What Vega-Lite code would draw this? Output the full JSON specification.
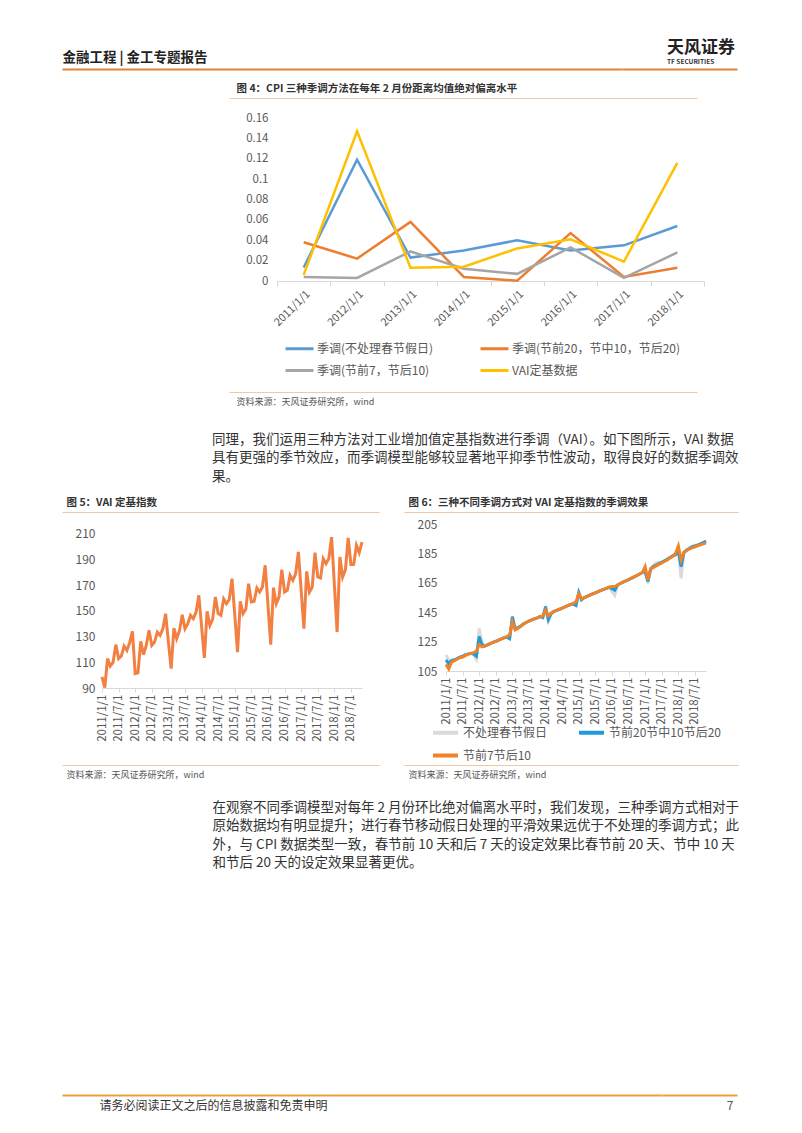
{
"$schema": "https://vega.github.io/schema/vega-lite/v6.json",
"background": "white",
"padding": {"left": 62, "top": 38, "right": 0, "bottom": 0},
"autosize": {"type": "pad"},
"config": {"font": "Noto Sans CJK SC", "view": {"stroke": null}},
"datasets": {
"f5": [
{"d":"2011/1/1","v":98.6},{"d":"2011/2/1","v":90.3},{"d":"2011/3/1","v":112.9},{"d":"2011/4/1","v":107},{"d":"2011/5/1","v":110},{"d":"2011/6/1","v":123.8},{"d":"2011/7/1","v":113},{"d":"2011/8/1","v":115},{"d":"2011/9/1","v":122.7},{"d":"2011/10/1","v":119.3},{"d":"2011/11/1","v":125.3},{"d":"2011/12/1","v":134.1},
{"d":"2012/1/1","v":101.2},{"d":"2012/2/1","v":101.8},{"d":"2012/3/1","v":126.4},{"d":"2012/4/1","v":116},{"d":"2012/5/1","v":123.2},{"d":"2012/6/1","v":134.9},{"d":"2012/7/1","v":123.2},{"d":"2012/8/1","v":125.8},{"d":"2012/9/1","v":133.6},{"d":"2012/10/1","v":131},{"d":"2012/11/1","v":136.2},{"d":"2012/12/1","v":147.9},
{"d":"2013/1/1","v":126},{"d":"2013/2/1","v":105.1},{"d":"2013/3/1","v":136.7},{"d":"2013/4/1","v":128.4},{"d":"2013/5/1","v":134.5},{"d":"2013/6/1","v":147},{"d":"2013/7/1","v":136.2},{"d":"2013/8/1","v":140},{"d":"2013/9/1","v":146.6},{"d":"2013/10/1","v":144},{"d":"2013/11/1","v":149},{"d":"2013/12/1","v":162.2},
{"d":"2014/1/1","v":138},{"d":"2014/2/1","v":113.4},{"d":"2014/3/1","v":149.7},{"d":"2014/4/1","v":138.8},{"d":"2014/5/1","v":143.5},{"d":"2014/6/1","v":160.9},{"d":"2014/7/1","v":147.9},{"d":"2014/8/1","v":146.6},{"d":"2014/9/1","v":159.5},{"d":"2014/10/1","v":155.7},{"d":"2014/11/1","v":159},{"d":"2014/12/1","v":175.2},
{"d":"2015/1/1","v":147},{"d":"2015/2/1","v":118},{"d":"2015/3/1","v":157.5},{"d":"2015/4/1","v":147.9},{"d":"2015/5/1","v":151.3},{"d":"2015/6/1","v":171.3},{"d":"2015/7/1","v":157},{"d":"2015/8/1","v":157.5},{"d":"2015/9/1","v":167.9},{"d":"2015/10/1","v":164.8},{"d":"2015/11/1","v":168.7},{"d":"2015/12/1","v":185.6},
{"d":"2016/1/1","v":155},{"d":"2016/2/1","v":123.8},{"d":"2016/3/1","v":168.2},{"d":"2016/4/1","v":155.7},{"d":"2016/5/1","v":160.9},{"d":"2016/6/1","v":182.2},{"d":"2016/7/1","v":164.8},{"d":"2016/8/1","v":166.1},{"d":"2016/9/1","v":177.8},{"d":"2016/10/1","v":173.9},{"d":"2016/11/1","v":179},{"d":"2016/12/1","v":196},
{"d":"2017/1/1","v":166},{"d":"2017/2/1","v":136.2},{"d":"2017/3/1","v":180.9},{"d":"2017/4/1","v":164.8},{"d":"2017/5/1","v":168.7},{"d":"2017/6/1","v":195.5},{"d":"2017/7/1","v":176.5},{"d":"2017/8/1","v":175.7},{"d":"2017/9/1","v":190.8},{"d":"2017/10/1","v":186.9},{"d":"2017/11/1","v":190.8},{"d":"2017/12/1","v":207.6},
{"d":"2018/1/1","v":171},{"d":"2018/2/1","v":133.6},{"d":"2018/3/1","v":192.1},{"d":"2018/4/1","v":176.5},{"d":"2018/5/1","v":182},{"d":"2018/6/1","v":206.9},{"d":"2018/7/1","v":186.1},{"d":"2018/8/1","v":186.3},{"d":"2018/9/1","v":201.1},{"d":"2018/10/1","v":195.5},{"d":"2018/11/1","v":203.7}
],
"f6": [
{"d":"2011/1/1","s":"不处理春节假日","v":116},{"d":"2011/2/1","s":"不处理春节假日","v":112},{"d":"2011/3/1","s":"不处理春节假日","v":112.5},{"d":"2011/4/1","s":"不处理春节假日","v":112.5},{"d":"2011/5/1","s":"不处理春节假日","v":113.5},{"d":"2011/6/1","s":"不处理春节假日","v":114.5},{"d":"2011/7/1","s":"不处理春节假日","v":115},{"d":"2011/8/1","s":"不处理春节假日","v":116},{"d":"2011/9/1","s":"不处理春节假日","v":116.5},{"d":"2011/10/1","s":"不处理春节假日","v":117},{"d":"2011/11/1","s":"不处理春节假日","v":116},{"d":"2011/12/1","s":"不处理春节假日","v":113},
{"d":"2012/1/1","s":"不处理春节假日","v":134},{"d":"2012/2/1","s":"不处理春节假日","v":124},{"d":"2012/3/1","s":"不处理春节假日","v":122},{"d":"2012/4/1","s":"不处理春节假日","v":122.8},{"d":"2012/5/1","s":"不处理春节假日","v":123.6},{"d":"2012/6/1","s":"不处理春节假日","v":124.4},{"d":"2012/7/1","s":"不处理春节假日","v":125.2},{"d":"2012/8/1","s":"不处理春节假日","v":126},{"d":"2012/9/1","s":"不处理春节假日","v":126.8},{"d":"2012/10/1","s":"不处理春节假日","v":127.6},{"d":"2012/11/1","s":"不处理春节假日","v":128},{"d":"2012/12/1","s":"不处理春节假日","v":127},
{"d":"2013/1/1","s":"不处理春节假日","v":140},{"d":"2013/2/1","s":"不处理春节假日","v":134},{"d":"2013/3/1","s":"不处理春节假日","v":134.5},{"d":"2013/4/1","s":"不处理春节假日","v":135.5},{"d":"2013/5/1","s":"不处理春节假日","v":137},{"d":"2013/6/1","s":"不处理春节假日","v":138},{"d":"2013/7/1","s":"不处理春节假日","v":139},{"d":"2013/8/1","s":"不处理春节假日","v":139.8},{"d":"2013/9/1","s":"不处理春节假日","v":140.5},{"d":"2013/10/1","s":"不处理春节假日","v":141.2},{"d":"2013/11/1","s":"不处理春节假日","v":142},{"d":"2013/12/1","s":"不处理春节假日","v":141},
{"d":"2014/1/1","s":"不处理春节假日","v":147},{"d":"2014/2/1","s":"不处理春节假日","v":139},{"d":"2014/3/1","s":"不处理春节假日","v":144},{"d":"2014/4/1","s":"不处理春节假日","v":145.5},{"d":"2014/5/1","s":"不处理春节假日","v":146.3},{"d":"2014/6/1","s":"不处理春节假日","v":147},{"d":"2014/7/1","s":"不处理春节假日","v":147.8},{"d":"2014/8/1","s":"不处理春节假日","v":148.6},{"d":"2014/9/1","s":"不处理春节假日","v":149.4},{"d":"2014/10/1","s":"不处理春节假日","v":150.2},{"d":"2014/11/1","s":"不处理春节假日","v":150.5},{"d":"2014/12/1","s":"不处理春节假日","v":150},
{"d":"2015/1/1","s":"不处理春节假日","v":157},{"d":"2015/2/1","s":"不处理春节假日","v":154},{"d":"2015/3/1","s":"不处理春节假日","v":155},{"d":"2015/4/1","s":"不处理春节假日","v":155.8},{"d":"2015/5/1","s":"不处理春节假日","v":156.6},{"d":"2015/6/1","s":"不处理春节假日","v":157.4},{"d":"2015/7/1","s":"不处理春节假日","v":158.2},{"d":"2015/8/1","s":"不处理春节假日","v":159},{"d":"2015/9/1","s":"不处理春节假日","v":159.8},{"d":"2015/10/1","s":"不处理春节假日","v":160.5},{"d":"2015/11/1","s":"不处理春节假日","v":161.2},{"d":"2015/12/1","s":"不处理春节假日","v":162},
{"d":"2016/1/1","s":"不处理春节假日","v":159},{"d":"2016/2/1","s":"不处理春节假日","v":156.5},{"d":"2016/3/1","s":"不处理春节假日","v":163.5},{"d":"2016/4/1","s":"不处理春节假日","v":164.5},{"d":"2016/5/1","s":"不处理春节假日","v":165.5},{"d":"2016/6/1","s":"不处理春节假日","v":166.3},{"d":"2016/7/1","s":"不处理春节假日","v":167.2},{"d":"2016/8/1","s":"不处理春节假日","v":168},{"d":"2016/9/1","s":"不处理春节假日","v":169},{"d":"2016/10/1","s":"不处理春节假日","v":170},{"d":"2016/11/1","s":"不处理春节假日","v":171},{"d":"2016/12/1","s":"不处理春节假日","v":172},
{"d":"2017/1/1","s":"不处理春节假日","v":172},{"d":"2017/2/1","s":"不处理春节假日","v":164.5},{"d":"2017/3/1","s":"不处理春节假日","v":174.5},{"d":"2017/4/1","s":"不处理春节假日","v":177},{"d":"2017/5/1","s":"不处理春节假日","v":178.5},{"d":"2017/6/1","s":"不处理春节假日","v":179},{"d":"2017/7/1","s":"不处理春节假日","v":179},{"d":"2017/8/1","s":"不处理春节假日","v":180},{"d":"2017/9/1","s":"不处理春节假日","v":181},{"d":"2017/10/1","s":"不处理春节假日","v":182.3},{"d":"2017/11/1","s":"不处理春节假日","v":183.5},{"d":"2017/12/1","s":"不处理春节假日","v":184},
{"d":"2018/1/1","s":"不处理春节假日","v":186},{"d":"2018/2/1","s":"不处理春节假日","v":168},{"d":"2018/3/1","s":"不处理春节假日","v":185},{"d":"2018/4/1","s":"不处理春节假日","v":187.5},{"d":"2018/5/1","s":"不处理春节假日","v":189},{"d":"2018/6/1","s":"不处理春节假日","v":190},{"d":"2018/7/1","s":"不处理春节假日","v":190.5},{"d":"2018/8/1","s":"不处理春节假日","v":191},{"d":"2018/9/1","s":"不处理春节假日","v":191.5},{"d":"2018/10/1","s":"不处理春节假日","v":192},{"d":"2018/11/1","s":"不处理春节假日","v":193},
{"d":"2011/1/1","s":"节前20节中10节后20","v":112.5},{"d":"2011/2/1","s":"节前20节中10节后20","v":110},{"d":"2011/3/1","s":"节前20节中10节后20","v":112},{"d":"2011/4/1","s":"节前20节中10节后20","v":112.5},{"d":"2011/5/1","s":"节前20节中10节后20","v":113.5},{"d":"2011/6/1","s":"节前20节中10节后20","v":114.5},{"d":"2011/7/1","s":"节前20节中10节后20","v":115},{"d":"2011/8/1","s":"节前20节中10节后20","v":116},{"d":"2011/9/1","s":"节前20节中10节后20","v":116.5},{"d":"2011/10/1","s":"节前20节中10节后20","v":117},{"d":"2011/11/1","s":"节前20节中10节后20","v":116.5},{"d":"2011/12/1","s":"节前20节中10节后20","v":115},
{"d":"2012/1/1","s":"节前20节中10节后20","v":128.5},{"d":"2012/2/1","s":"节前20节中10节后20","v":123},{"d":"2012/3/1","s":"节前20节中10节后20","v":122},{"d":"2012/4/1","s":"节前20节中10节后20","v":122.8},{"d":"2012/5/1","s":"节前20节中10节后20","v":123.6},{"d":"2012/6/1","s":"节前20节中10节后20","v":124.4},{"d":"2012/7/1","s":"节前20节中10节后20","v":125.2},{"d":"2012/8/1","s":"节前20节中10节后20","v":126},{"d":"2012/9/1","s":"节前20节中10节后20","v":126.8},{"d":"2012/10/1","s":"节前20节中10节后20","v":127.6},{"d":"2012/11/1","s":"节前20节中10节后20","v":128},{"d":"2012/12/1","s":"节前20节中10节后20","v":127},
{"d":"2013/1/1","s":"节前20节中10节后20","v":142},{"d":"2013/2/1","s":"节前20节中10节后20","v":133.5},{"d":"2013/3/1","s":"节前20节中10节后20","v":134.5},{"d":"2013/4/1","s":"节前20节中10节后20","v":135.5},{"d":"2013/5/1","s":"节前20节中10节后20","v":137},{"d":"2013/6/1","s":"节前20节中10节后20","v":138},{"d":"2013/7/1","s":"节前20节中10节后20","v":139},{"d":"2013/8/1","s":"节前20节中10节后20","v":139.8},{"d":"2013/9/1","s":"节前20节中10节后20","v":140.5},{"d":"2013/10/1","s":"节前20节中10节后20","v":141.2},{"d":"2013/11/1","s":"节前20节中10节后20","v":142},{"d":"2013/12/1","s":"节前20节中10节后20","v":141.5},
{"d":"2014/1/1","s":"节前20节中10节后20","v":148.8},{"d":"2014/2/1","s":"节前20节中10节后20","v":140},{"d":"2014/3/1","s":"节前20节中10节后20","v":144},{"d":"2014/4/1","s":"节前20节中10节后20","v":145.5},{"d":"2014/5/1","s":"节前20节中10节后20","v":146.3},{"d":"2014/6/1","s":"节前20节中10节后20","v":147},{"d":"2014/7/1","s":"节前20节中10节后20","v":147.8},{"d":"2014/8/1","s":"节前20节中10节后20","v":148.6},{"d":"2014/9/1","s":"节前20节中10节后20","v":149.4},{"d":"2014/10/1","s":"节前20节中10节后20","v":150.2},{"d":"2014/11/1","s":"节前20节中10节后20","v":150.5},{"d":"2014/12/1","s":"节前20节中10节后20","v":149.5},
{"d":"2015/1/1","s":"节前20节中10节后20","v":158.5},{"d":"2015/2/1","s":"节前20节中10节后20","v":153.5},{"d":"2015/3/1","s":"节前20节中10节后20","v":155},{"d":"2015/4/1","s":"节前20节中10节后20","v":155.8},{"d":"2015/5/1","s":"节前20节中10节后20","v":156.6},{"d":"2015/6/1","s":"节前20节中10节后20","v":157.4},{"d":"2015/7/1","s":"节前20节中10节后20","v":158.2},{"d":"2015/8/1","s":"节前20节中10节后20","v":159},{"d":"2015/9/1","s":"节前20节中10节后20","v":159.8},{"d":"2015/10/1","s":"节前20节中10节后20","v":160.5},{"d":"2015/11/1","s":"节前20节中10节后20","v":161.2},{"d":"2015/12/1","s":"节前20节中10节后20","v":162},
{"d":"2016/1/1","s":"节前20节中10节后20","v":161},{"d":"2016/2/1","s":"节前20节中10节后20","v":160},{"d":"2016/3/1","s":"节前20节中10节后20","v":163.5},{"d":"2016/4/1","s":"节前20节中10节后20","v":164.5},{"d":"2016/5/1","s":"节前20节中10节后20","v":165.5},{"d":"2016/6/1","s":"节前20节中10节后20","v":166.3},{"d":"2016/7/1","s":"节前20节中10节后20","v":167.2},{"d":"2016/8/1","s":"节前20节中10节后20","v":168},{"d":"2016/9/1","s":"节前20节中10节后20","v":169},{"d":"2016/10/1","s":"节前20节中10节后20","v":170},{"d":"2016/11/1","s":"节前20节中10节后20","v":171},{"d":"2016/12/1","s":"节前20节中10节后20","v":172},
{"d":"2017/1/1","s":"节前20节中10节后20","v":173},{"d":"2017/2/1","s":"节前20节中10节后20","v":166},{"d":"2017/3/1","s":"节前20节中10节后20","v":174.5},{"d":"2017/4/1","s":"节前20节中10节后20","v":176},{"d":"2017/5/1","s":"节前20节中10节后20","v":177},{"d":"2017/6/1","s":"节前20节中10节后20","v":178},{"d":"2017/7/1","s":"节前20节中10节后20","v":179},{"d":"2017/8/1","s":"节前20节中10节后20","v":180},{"d":"2017/9/1","s":"节前20节中10节后20","v":181},{"d":"2017/10/1","s":"节前20节中10节后20","v":182.2},{"d":"2017/11/1","s":"节前20节中10节后20","v":183.3},{"d":"2017/12/1","s":"节前20节中10节后20","v":184},
{"d":"2018/1/1","s":"节前20节中10节后20","v":187},{"d":"2018/2/1","s":"节前20节中10节后20","v":176},{"d":"2018/3/1","s":"节前20节中10节后20","v":185.5},{"d":"2018/4/1","s":"节前20节中10节后20","v":187.2},{"d":"2018/5/1","s":"节前20节中10节后20","v":188.3},{"d":"2018/6/1","s":"节前20节中10节后20","v":189.5},{"d":"2018/7/1","s":"节前20节中10节后20","v":190},{"d":"2018/8/1","s":"节前20节中10节后20","v":190.6},{"d":"2018/9/1","s":"节前20节中10节后20","v":191.5},{"d":"2018/10/1","s":"节前20节中10节后20","v":192.3},{"d":"2018/11/1","s":"节前20节中10节后20","v":193.5},
{"d":"2011/1/1","s":"节前7节后10","v":109.5},{"d":"2011/2/1","s":"节前7节后10","v":106.4},{"d":"2011/3/1","s":"节前7节后10","v":111},{"d":"2011/4/1","s":"节前7节后10","v":112},{"d":"2011/5/1","s":"节前7节后10","v":113},{"d":"2011/6/1","s":"节前7节后10","v":114},{"d":"2011/7/1","s":"节前7节后10","v":114.5},{"d":"2011/8/1","s":"节前7节后10","v":115.5},{"d":"2011/9/1","s":"节前7节后10","v":116.5},{"d":"2011/10/1","s":"节前7节后10","v":117},{"d":"2011/11/1","s":"节前7节后10","v":117.5},{"d":"2011/12/1","s":"节前7节后10","v":118.5},
{"d":"2012/1/1","s":"节前7节后10","v":123},{"d":"2012/2/1","s":"节前7节后10","v":121.5},{"d":"2012/3/1","s":"节前7节后10","v":122},{"d":"2012/4/1","s":"节前7节后10","v":122.8},{"d":"2012/5/1","s":"节前7节后10","v":123.6},{"d":"2012/6/1","s":"节前7节后10","v":124.4},{"d":"2012/7/1","s":"节前7节后10","v":125.2},{"d":"2012/8/1","s":"节前7节后10","v":126},{"d":"2012/9/1","s":"节前7节后10","v":126.8},{"d":"2012/10/1","s":"节前7节后10","v":127.6},{"d":"2012/11/1","s":"节前7节后10","v":128.4},{"d":"2012/12/1","s":"节前7节后10","v":129.5},
{"d":"2013/1/1","s":"节前7节后10","v":138.5},{"d":"2013/2/1","s":"节前7节后10","v":133},{"d":"2013/3/1","s":"节前7节后10","v":134},{"d":"2013/4/1","s":"节前7节后10","v":135.5},{"d":"2013/5/1","s":"节前7节后10","v":137},{"d":"2013/6/1","s":"节前7节后10","v":138},{"d":"2013/7/1","s":"节前7节后10","v":139},{"d":"2013/8/1","s":"节前7节后10","v":139.8},{"d":"2013/9/1","s":"节前7节后10","v":140.5},{"d":"2013/10/1","s":"节前7节后10","v":141.2},{"d":"2013/11/1","s":"节前7节后10","v":142},{"d":"2013/12/1","s":"节前7节后10","v":142.5},
{"d":"2014/1/1","s":"节前7节后10","v":146.5},{"d":"2014/2/1","s":"节前7节后10","v":142.5},{"d":"2014/3/1","s":"节前7节后10","v":144.5},{"d":"2014/4/1","s":"节前7节后10","v":145.5},{"d":"2014/5/1","s":"节前7节后10","v":146.3},{"d":"2014/6/1","s":"节前7节后10","v":147},{"d":"2014/7/1","s":"节前7节后10","v":147.8},{"d":"2014/8/1","s":"节前7节后10","v":148.6},{"d":"2014/9/1","s":"节前7节后10","v":149.4},{"d":"2014/10/1","s":"节前7节后10","v":150.2},{"d":"2014/11/1","s":"节前7节后10","v":151},{"d":"2014/12/1","s":"节前7节后10","v":152},
{"d":"2015/1/1","s":"节前7节后10","v":157.5},{"d":"2015/2/1","s":"节前7节后10","v":154},{"d":"2015/3/1","s":"节前7节后10","v":155},{"d":"2015/4/1","s":"节前7节后10","v":155.8},{"d":"2015/5/1","s":"节前7节后10","v":156.6},{"d":"2015/6/1","s":"节前7节后10","v":157.4},{"d":"2015/7/1","s":"节前7节后10","v":158.2},{"d":"2015/8/1","s":"节前7节后10","v":159},{"d":"2015/9/1","s":"节前7节后10","v":159.8},{"d":"2015/10/1","s":"节前7节后10","v":160.5},{"d":"2015/11/1","s":"节前7节后10","v":161.2},{"d":"2015/12/1","s":"节前7节后10","v":162},
{"d":"2016/1/1","s":"节前7节后10","v":162.5},{"d":"2016/2/1","s":"节前7节后10","v":162.5},{"d":"2016/3/1","s":"节前7节后10","v":163.5},{"d":"2016/4/1","s":"节前7节后10","v":164.5},{"d":"2016/5/1","s":"节前7节后10","v":165.5},{"d":"2016/6/1","s":"节前7节后10","v":166.3},{"d":"2016/7/1","s":"节前7节后10","v":167.2},{"d":"2016/8/1","s":"节前7节后10","v":168},{"d":"2016/9/1","s":"节前7节后10","v":169},{"d":"2016/10/1","s":"节前7节后10","v":170},{"d":"2016/11/1","s":"节前7节后10","v":171},{"d":"2016/12/1","s":"节前7节后10","v":172},
{"d":"2017/1/1","s":"节前7节后10","v":176},{"d":"2017/2/1","s":"节前7节后10","v":167},{"d":"2017/3/1","s":"节前7节后10","v":174.5},{"d":"2017/4/1","s":"节前7节后10","v":175.5},{"d":"2017/5/1","s":"节前7节后10","v":176.5},{"d":"2017/6/1","s":"节前7节后10","v":177.5},{"d":"2017/7/1","s":"节前7节后10","v":178.5},{"d":"2017/8/1","s":"节前7节后10","v":179.5},{"d":"2017/9/1","s":"节前7节后10","v":180.5},{"d":"2017/10/1","s":"节前7节后10","v":181.8},{"d":"2017/11/1","s":"节前7节后10","v":183},{"d":"2017/12/1","s":"节前7节后10","v":185},
{"d":"2018/1/1","s":"节前7节后10","v":190},{"d":"2018/2/1","s":"节前7节后10","v":180.5},{"d":"2018/3/1","s":"节前7节后10","v":186},{"d":"2018/4/1","s":"节前7节后10","v":187},{"d":"2018/5/1","s":"节前7节后10","v":188},{"d":"2018/6/1","s":"节前7节后10","v":188.8},{"d":"2018/7/1","s":"节前7节后10","v":189.5},{"d":"2018/8/1","s":"节前7节后10","v":190.2},{"d":"2018/9/1","s":"节前7节后10","v":190.8},{"d":"2018/10/1","s":"节前7节后10","v":191.5},{"d":"2018/11/1","s":"节前7节后10","v":192}
]
},
"vconcat": [
{"hconcat": [
 {"width": 560, "height": 29, "data": {"values": [{"u": 0.5}]}, "mark": {"type": "point", "opacity": 0, "size": 0},
  "encoding": {"x": {"field": "u", "type": "quantitative", "scale": {"domain": [0, 1]},
   "axis": {"orient": "top", "labels": false, "ticks": false, "grid": false, "domainColor": "#E8822E", "domainWidth": 2, "title": "金融工程 | 金工专题报告", "titleAnchor": "start", "titleAlign": "left", "titleX": 0, "titleFontSize": 13.5, "titleFontWeight": "bold", "titleColor": "#222222", "titlePadding": 5}}}},
 {"width": 115, "height": 29, "data": {"values": [{"u": 0.5}]}, "mark": {"type": "point", "opacity": 0, "size": 0},
  "title": {"text": "天风证券", "subtitle": "TF SECURITIES", "anchor": "start", "frame": "group", "dx": 45, "fontSize": 17, "fontWeight": "bold", "color": "#222222", "subtitleFontSize": 6.5, "subtitleFontWeight": "bold", "subtitleColor": "#333333", "subtitlePadding": 2, "offset": 3},
  "encoding": {"x": {"field": "u", "type": "quantitative", "scale": {"domain": [0, 1]},
   "axis": {"orient": "top", "labels": false, "ticks": false, "grid": false, "domainColor": "#E8822E", "domainWidth": 2, "title": null}}}}
], "spacing": 0, "bounds": "flush"},
{"width": 1, "height": 29, "data": {"values": [{}]}, "mark": {"type": "point", "opacity": 0, "size": 0}},
{"hconcat": [
 {"width": 167, "height": 20, "data": {"values": [{}]}, "mark": {"type": "point", "opacity": 0, "size": 0}},
 {"width": 468, "height": 20, "data": {"values": [{"u": 0.5}]}, "mark": {"type": "point", "opacity": 0, "size": 0},
  "encoding": {"x": {"field": "u", "type": "quantitative", "scale": {"domain": [0, 1]},
   "axis": {"orient": "top", "labels": false, "ticks": false, "grid": false, "domainColor": "#F3C6A5", "domainWidth": 1, "title": "图 4：CPI 三种季调方法在每年 2 月份距离均值绝对偏离水平", "titleAnchor": "start", "titleAlign": "left", "titleX": 7, "titleFontSize": 10.5, "titleFontWeight": "bold", "titleColor": "#333333", "titlePadding": 5}}}}
], "spacing": 0, "bounds": "flush"},
{"width": 1, "height": 20, "data": {"values": [{}]}, "mark": {"type": "point", "opacity": 0, "size": 0}},
{"hconcat": [
 {"width": 215, "height": 163, "data": {"values": [{}]}, "mark": {"type": "point", "opacity": 0, "size": 0}},
 {"width": 427, "height": 163,
  "data": {"values": [
   {"y":"2011/1/1","s":"季调(不处理春节假日)","v":0.0133},{"y":"2012/1/1","s":"季调(不处理春节假日)","v":0.119},{"y":"2013/1/1","s":"季调(不处理春节假日)","v":0.023},{"y":"2014/1/1","s":"季调(不处理春节假日)","v":0.030},{"y":"2015/1/1","s":"季调(不处理春节假日)","v":0.040},{"y":"2016/1/1","s":"季调(不处理春节假日)","v":0.030},{"y":"2017/1/1","s":"季调(不处理春节假日)","v":0.035},{"y":"2018/1/1","s":"季调(不处理春节假日)","v":0.054},
   {"y":"2011/1/1","s":"季调(节前20，节中10，节后20)","v":0.038},{"y":"2012/1/1","s":"季调(节前20，节中10，节后20)","v":0.022},{"y":"2013/1/1","s":"季调(节前20，节中10，节后20)","v":0.058},{"y":"2014/1/1","s":"季调(节前20，节中10，节后20)","v":0.004},{"y":"2015/1/1","s":"季调(节前20，节中10，节后20)","v":0.0003},{"y":"2016/1/1","s":"季调(节前20，节中10，节后20)","v":0.047},{"y":"2017/1/1","s":"季调(节前20，节中10，节后20)","v":0.004},{"y":"2018/1/1","s":"季调(节前20，节中10，节后20)","v":0.013},
   {"y":"2011/1/1","s":"季调(节前7，节后10)","v":0.004},{"y":"2012/1/1","s":"季调(节前7，节后10)","v":0.003},{"y":"2013/1/1","s":"季调(节前7，节后10)","v":0.029},{"y":"2014/1/1","s":"季调(节前7，节后10)","v":0.012},{"y":"2015/1/1","s":"季调(节前7，节后10)","v":0.007},{"y":"2016/1/1","s":"季调(节前7，节后10)","v":0.033},{"y":"2017/1/1","s":"季调(节前7，节后10)","v":0.003},{"y":"2018/1/1","s":"季调(节前7，节后10)","v":0.028},
   {"y":"2011/1/1","s":"VAI定基数据","v":0.006},{"y":"2012/1/1","s":"VAI定基数据","v":0.147},{"y":"2013/1/1","s":"VAI定基数据","v":0.013},{"y":"2014/1/1","s":"VAI定基数据","v":0.014},{"y":"2015/1/1","s":"VAI定基数据","v":0.032},{"y":"2016/1/1","s":"VAI定基数据","v":0.041},{"y":"2017/1/1","s":"VAI定基数据","v":0.019},{"y":"2018/1/1","s":"VAI定基数据","v":0.116}
  ]},
  "mark": {"type": "line", "strokeWidth": 2.5},
  "encoding": {
   "x": {"field": "y", "type": "nominal", "sort": null, "bandPosition": 0.5, "scale": {"type": "band", "paddingInner": 0, "paddingOuter": 0},
    "axis": {"title": null, "labelAngle": -45, "labelFontSize": 11, "labelColor": "#595959", "domainColor": "#D9D9D9", "tickColor": "#D9D9D9", "tickSize": 5, "tickBand": "extent", "labelPadding": 2, "grid": false}},
   "y": {"field": "v", "type": "quantitative", "scale": {"domain": [0, 0.16], "nice": false},
    "axis": {"title": null, "values": [0, 0.02, 0.04, 0.06, 0.08, 0.1, 0.12, 0.14, 0.16], "format": "~g", "grid": false, "domain": false, "ticks": false, "labelFontSize": 11.5, "labelColor": "#595959", "labelPadding": 9}},
   "color": {"field": "s", "type": "nominal", "sort": null,
    "scale": {"domain": ["季调(不处理春节假日)", "季调(节前20，节中10，节后20)", "季调(节前7，节后10)", "VAI定基数据"], "range": ["#5B9BD5", "#ED7D31", "#A5A5A5", "#FFC000"]},
    "legend": {"orient": "none", "legendX": 7, "legendY": 215, "direction": "horizontal", "columns": 2, "title": null, "symbolType": "stroke", "symbolSize": 784, "symbolStrokeWidth": 3, "labelFontSize": 12, "labelColor": "#595959", "columnPadding": 40, "rowPadding": -12, "labelOffset": 2, "labelLimit": 300}}
  }}
], "spacing": 0, "bounds": "flush", "resolve": {"scale": {"color": "independent"}, "legend": {"color": "independent"}}},
{"width": 1, "height": 163, "data": {"values": [{}]}, "mark": {"type": "point", "opacity": 0, "size": 0}},
{"hconcat": [
 {"width": 167, "height": 111, "data": {"values": [{}]}, "mark": {"type": "point", "opacity": 0, "size": 0}},
 {"width": 468, "height": 111, "data": {"values": [{"u": 0.5}]}, "mark": {"type": "point", "opacity": 0, "size": 0},
  "encoding": {"x": {"field": "u", "type": "quantitative", "scale": {"domain": [0, 1]},
   "axis": {"orient": "bottom", "labels": false, "ticks": false, "grid": false, "domainColor": "#F3C6A5", "domainWidth": 1, "title": "资料来源：天风证券研究所，wind", "titleAnchor": "start", "titleAlign": "left", "titleX": 7, "titleFontSize": 9, "titleFontWeight": "normal", "titleColor": "#555555", "titlePadding": 5}}}}
], "spacing": 0, "bounds": "flush"},
{"width": 1, "height": 231, "data": {"values": [{}]}, "mark": {"type": "point", "opacity": 0, "size": 0}},
{"hconcat": [
 {"width": 317, "height": 12, "data": {"values": [{"u": 0.5}]}, "mark": {"type": "point", "opacity": 0, "size": 0},
  "title": {"text": ["同理，我们运用三种方法对工业增加值定基指数进行季调（VAI）。如下图所示，VAI 数据", "具有更强的季节效应，而季调模型能够较显著地平抑季节性波动，取得良好的数据季调效", "果。"], "anchor": "start", "frame": "group", "dx": 150, "fontSize": 13.5, "fontWeight": "normal", "color": "#333333", "lineHeight": 18.5, "offset": 14},
  "encoding": {"x": {"field": "u", "type": "quantitative", "scale": {"domain": [0, 1]},
   "axis": {"orient": "top", "labels": false, "ticks": false, "grid": false, "domainColor": "#F3C6A5", "domainWidth": 1, "title": "图 5：VAI 定基指数", "titleAnchor": "start", "titleAlign": "left", "titleX": 4, "titleFontSize": 10.5, "titleFontWeight": "bold", "titleColor": "#333333", "titlePadding": 5}}}},
 {"width": 25, "height": 12, "data": {"values": [{}]}, "mark": {"type": "point", "opacity": 0, "size": 0}},
 {"width": 335, "height": 12, "data": {"values": [{"u": 0.5}]}, "mark": {"type": "point", "opacity": 0, "size": 0},
  "encoding": {"x": {"field": "u", "type": "quantitative", "scale": {"domain": [0, 1]},
   "axis": {"orient": "top", "labels": false, "ticks": false, "grid": false, "domainColor": "#F3C6A5", "domainWidth": 1, "title": "图 6：三种不同季调方式对 VAI 定基指数的季调效果", "titleAnchor": "start", "titleAlign": "left", "titleX": 4, "titleFontSize": 10.5, "titleFontWeight": "bold", "titleColor": "#333333", "titlePadding": 5}}}}
], "spacing": 0, "bounds": "flush"},
{"width": 1, "height": 12, "data": {"values": [{}]}, "mark": {"type": "point", "opacity": 0, "size": 0}},
{"hconcat": [
 {"width": 40, "height": 164, "data": {"values": [{}]}, "mark": {"type": "point", "opacity": 0, "size": 0}},
 {"width": 260, "height": 164, "data": {"name": "f5"},
  "mark": {"type": "line", "strokeWidth": 3, "color": "#F28043"},
  "encoding": {
   "x": {"field": "d", "type": "nominal", "sort": null, "scale": {"type": "point", "padding": 0},
    "axis": {"title": null, "values": ["2011/1/1","2011/7/1","2012/1/1","2012/7/1","2013/1/1","2013/7/1","2014/1/1","2014/7/1","2015/1/1","2015/7/1","2016/1/1","2016/7/1","2017/1/1","2017/7/1","2018/1/1","2018/7/1"], "labelAngle": -90, "labelAlign": "right", "labelBaseline": "middle", "labelFontSize": 11.5, "labelColor": "#595959", "labelOverlap": false, "domainColor": "#D9D9D9", "tickColor": "#D9D9D9", "tickSize": 4, "labelPadding": 2, "grid": false}},
   "y": {"field": "v", "type": "quantitative", "scale": {"domain": [90, 217.79], "nice": false},
    "axis": {"title": null, "values": [90, 110, 130, 150, 170, 190, 210], "grid": false, "domain": false, "ticks": false, "labelFontSize": 12, "labelColor": "#595959", "labelPadding": 7}}
  }},
 {"width": 84, "height": 164, "data": {"values": [{}]}, "mark": {"type": "point", "opacity": 0, "size": 0}},
 {"width": 260, "height": 147, "data": {"name": "f6"},
  "mark": {"type": "line", "strokeWidth": 3},
  "encoding": {
   "x": {"field": "d", "type": "nominal", "sort": null, "scale": {"type": "point", "padding": 0},
    "axis": {"title": null, "values": ["2011/1/1","2011/7/1","2012/1/1","2012/7/1","2013/1/1","2013/7/1","2014/1/1","2014/7/1","2015/1/1","2015/7/1","2016/1/1","2016/7/1","2017/1/1","2017/7/1","2018/1/1","2018/7/1"], "labelAngle": -90, "labelAlign": "right", "labelBaseline": "middle", "labelFontSize": 11.5, "labelColor": "#595959", "labelOverlap": false, "domainColor": "#D9D9D9", "tickColor": "#D9D9D9", "tickSize": 4, "labelPadding": 2, "grid": false}},
   "y": {"field": "v", "type": "quantitative", "scale": {"domain": [105, 205], "nice": false},
    "axis": {"title": null, "values": [105, 125, 145, 165, 185, 205], "grid": false, "domain": false, "ticks": false, "labelFontSize": 12, "labelColor": "#595959", "labelPadding": 9}},
   "color": {"field": "s", "type": "nominal", "sort": null,
    "scale": {"domain": ["不处理春节假日", "节前20节中10节后20", "节前7节后10"], "range": ["#D9DADC", "#1E9CD8", "#F0822A"]},
    "legend": {"orient": "none", "legendX": -15, "legendY": 194, "direction": "horizontal", "columns": 2, "title": null, "symbolType": "stroke", "symbolSize": 625, "symbolStrokeWidth": 4, "labelFontSize": 12, "labelColor": "#595959", "columnPadding": 23, "rowPadding": -8, "labelOffset": 3, "labelLimit": 300}}
  }}
], "spacing": 0, "bounds": "flush", "resolve": {"scale": {"color": "independent"}, "legend": {"color": "independent"}}},
{"width": 1, "height": 164, "data": {"values": [{}]}, "mark": {"type": "point", "opacity": 0, "size": 0}},
{"hconcat": [
 {"width": 317, "height": 77, "data": {"values": [{"u": 0.5}]}, "mark": {"type": "point", "opacity": 0, "size": 0},
  "encoding": {"x": {"field": "u", "type": "quantitative", "scale": {"domain": [0, 1]},
   "axis": {"orient": "bottom", "labels": false, "ticks": false, "grid": false, "domainColor": "#F3C6A5", "domainWidth": 1, "title": "资料来源：天风证券研究所，wind", "titleAnchor": "start", "titleAlign": "left", "titleX": 4, "titleFontSize": 9, "titleFontWeight": "normal", "titleColor": "#555555", "titlePadding": 5}}}},
 {"width": 25, "height": 77, "data": {"values": [{}]}, "mark": {"type": "point", "opacity": 0, "size": 0}},
 {"width": 335, "height": 77, "data": {"values": [{"u": 0.5}]}, "mark": {"type": "point", "opacity": 0, "size": 0},
  "encoding": {"x": {"field": "u", "type": "quantitative", "scale": {"domain": [0, 1]},
   "axis": {"orient": "bottom", "labels": false, "ticks": false, "grid": false, "domainColor": "#F3C6A5", "domainWidth": 1, "title": "资料来源：天风证券研究所，wind", "titleAnchor": "start", "titleAlign": "left", "titleX": 4, "titleFontSize": 9, "titleFontWeight": "normal", "titleColor": "#555555", "titlePadding": 5}}}}
], "spacing": 0, "bounds": "flush"},
{"width": 675, "height": 77, "data": {"values": [{"u": 0.5}]}, "mark": {"type": "point", "opacity": 0, "size": 0},
 "encoding": {"x": {"field": "u", "type": "quantitative", "scale": {"domain": [0, 1]},
  "axis": {"orient": "bottom", "labels": false, "ticks": false, "grid": false, "domain": false, "title": ["在观察不同季调模型对每年 2 月份环比绝对偏离水平时，我们发现，三种季调方式相对于", "原始数据均有明显提升；进行春节移动假日处理的平滑效果远优于不处理的季调方式；此", "外，与 CPI 数据类型一致，春节前 10 天和后 7 天的设定效果比春节前 20 天、节中 10 天", "和节后 20 天的设定效果显著更优。"], "titleAnchor": "start", "titleAlign": "left", "titleX": 150, "titleFontSize": 13.5, "titleFontWeight": "normal", "titleColor": "#333333", "titleLineHeight": 18.5, "titlePadding": 35}}}},
{"hconcat": [
 {"width": 600, "height": 330, "data": {"values": [{"u": 0.5}]}, "mark": {"type": "point", "opacity": 0, "size": 0},
  "encoding": {"x": {"field": "u", "type": "quantitative", "scale": {"domain": [0, 1]},
   "axis": {"orient": "bottom", "labels": false, "ticks": false, "grid": false, "domainColor": "#E9A23B", "domainWidth": 2, "title": "请务必阅读正文之后的信息披露和免责申明", "titleAnchor": "start", "titleAlign": "left", "titleX": 37, "titleFontSize": 12, "titleFontWeight": "normal", "titleColor": "#333333", "titlePadding": 5}}}},
 {"width": 75, "height": 330, "data": {"values": [{"u": 0.5}]}, "mark": {"type": "point", "opacity": 0, "size": 0},
  "encoding": {"x": {"field": "u", "type": "quantitative", "scale": {"domain": [0, 1]},
   "axis": {"orient": "bottom", "labels": false, "ticks": false, "grid": false, "domainColor": "#E9A23B", "domainWidth": 2, "title": "7", "titleAlign": "right", "titleX": 71, "titleFontSize": 12, "titleFontWeight": "normal", "titleColor": "#555555", "titlePadding": 5}}}}
], "spacing": 0, "bounds": "flush"}
],
"spacing": 0,
"bounds": "flush",
"resolve": {"scale": {"color": "independent"}, "legend": {"color": "independent"}}
}
